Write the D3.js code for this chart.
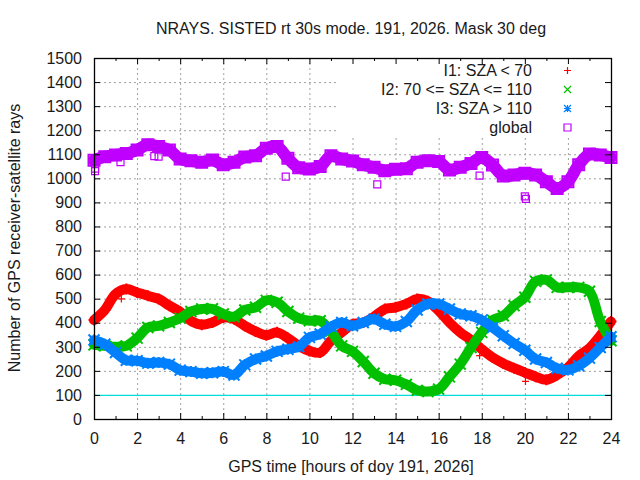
<!DOCTYPE html>
<html>
<head>
<meta charset="utf-8">
<script src="https://cdn.jsdelivr.net/npm/d3@7"></script>
<style>
  body { margin: 0; background: #fff; }
  text { font-family: "Liberation Sans", Arial, sans-serif; fill: #1a1a1a; }
</style>
</head>
<body>
<div id="chart"></div>
<script>
const hours = [0, 0.5, 1, 1.5, 2, 2.5, 3, 3.5, 4, 4.5, 5, 5.5, 6, 6.5, 7, 7.5, 8, 8.5, 9, 9.5,
    10, 10.5, 11, 11.5, 12, 12.5, 13, 13.5, 14, 14.5, 15, 15.5, 16, 16.5, 17, 17.5, 18, 18.5, 19, 19.5,
    20, 20.5, 21, 21.5, 22, 22.5, 23, 23.5, 24];

const raysI1 = [411, 453, 519, 540, 526, 512, 499, 471, 445, 408, 392, 401, 422, 415, 387, 364, 348, 360, 336, 304,
    283, 276, 325, 360, 394, 401, 425, 457, 464, 478, 499, 489, 450, 401, 360, 328, 290, 256, 231, 211,
    193, 176, 163, 183, 214, 262, 294, 346, 405];
const raysI2 = [308, 304, 300, 304, 336, 380, 387, 401, 419, 447, 457, 458, 436, 425, 453, 464, 493, 485, 447, 419,
    408, 408, 365, 304, 281, 239, 190, 165, 161, 144, 119, 114, 124, 175, 228, 297, 360, 411, 429, 471,
    506, 572, 578, 547, 547, 547, 531, 405, 325];
const raysI3 = [328, 311, 276, 244, 242, 232, 235, 228, 203, 197, 190, 192, 197, 183, 225, 249, 262, 281, 290, 300,
    339, 353, 383, 401, 387, 401, 415, 394, 385, 405, 453, 478, 478, 457, 436, 429, 411, 380, 346, 314,
    286, 249, 235, 211, 204, 221, 253, 297, 342];
const raysGlobal = [1075, 1090, 1097, 1103, 1118, 1140, 1132, 1118, 1080, 1073, 1067, 1076, 1056, 1067, 1089, 1094, 1125, 1132, 1083, 1044,
    1039, 1049, 1094, 1080, 1072, 1056, 1046, 1032, 1038, 1040, 1067, 1073, 1070, 1035, 1046, 1062, 1087, 1055, 1010, 1014,
    1021, 1014, 986, 958, 986, 1056, 1101, 1097, 1087];

// isolated samples away from the bands
const outlierI1 = [[1.27, 499], [17.9, 263], [20.03, 156]];
const outlierGlobal = [[0.05, 1030], [0.05, 1040], [1.23, 1067], [2.8, 1092], [3.0, 1090], [8.9, 1007],
    [13.15, 975], [17.9, 1011], [20.0, 925], [20.05, 915]];

const xTicks = [0, 2, 4, 6, 8, 10, 12, 14, 16, 18, 20, 22, 24];
const yTicks = [0, 100, 200, 300, 400, 500, 600, 700, 800, 900, 1000, 1100, 1200, 1300, 1400, 1500];
const refLevel = 100;

const series = [
    { name: 'I1: SZA < 70', values: raysI1, outliers: outlierI1, color: '#ff0000', symbol: 'plus' },
    { name: 'I2: 70 <= SZA <= 110', values: raysI2, outliers: [], color: '#00c000', symbol: 'cross' },
    { name: 'I3: SZA > 110', values: raysI3, outliers: [], color: '#0080ff', symbol: 'star' },
    { name: 'global', values: raysGlobal, outliers: outlierGlobal, color: '#c000ff', symbol: 'square' }
];

const width = 640, height = 480;
const plot = { left: 94, right: 611, top: 58, bottom: 419 };
const fontSize = '16px';

const svg = d3.select('#chart')
    .append('svg')
    .attr('width', width)
    .attr('height', height);

const x = d3.scaleLinear().domain([0, 24]).range([plot.left, plot.right]);
const y = d3.scaleLinear().domain([0, 1500]).range([plot.bottom, plot.top]);

function symbolPath(type, s) {
    if (type === 'plus') return `M${-s},0H${s}M0,${-s}V${s}`;
    if (type === 'cross') return `M${-s},${-s}L${s},${s}M${-s},${s}L${s},${-s}`;
    if (type === 'star') return `M${-s},0H${s}M0,${-s}V${s}M${-s},${-s}L${s},${s}M${-s},${s}L${s},${-s}`;
    return `M${-s},${-s}H${s}V${s}H${-s}Z`;
}

// grid
const grid = svg.append('g').attr('stroke', '#a0a0a0').attr('stroke-dasharray', '2,3').attr('stroke-width', 1);
xTicks.slice(1, -1).forEach(t => {
    grid.append('line')
        .attr('x1', x(t) + 0.5).attr('x2', x(t) + 0.5)
        .attr('y1', plot.top).attr('y2', plot.bottom);
});
yTicks.slice(1, -1).forEach(t => {
    grid.append('line')
        .attr('x1', plot.left).attr('x2', plot.right)
        .attr('y1', y(t) + 0.5).attr('y2', y(t) + 0.5);
});

// reference level
svg.append('line')
    .attr('x1', plot.left).attr('x2', plot.right)
    .attr('y1', y(refLevel) + 0.5).attr('y2', y(refLevel) + 0.5)
    .attr('stroke', '#00dede')
    .attr('stroke-width', 1.3);

// opaque key box hides the grid behind it
svg.append('rect')
    .attr('x', 337).attr('y', plot.top + 1)
    .attr('width', plot.right - 337 - 6).attr('height', 78)
    .attr('fill', '#fff');

// data bands
const line = d3.line()
    .x((d, i) => x(hours[i]))
    .y(d => y(d))
    .curve(d3.curveCatmullRom);

const data = svg.append('g');
series.forEach(s => {
    data.append('path')
        .attr('d', line(s.values))
        .attr('fill', 'none')
        .attr('stroke', s.color)
        .attr('stroke-width', s.symbol === 'square' ? 12 : 10)
        .attr('stroke-linejoin', 'round')
        .attr('stroke-linecap', 'round');

    data.append('g')
        .selectAll('path')
        .data(s.values)
        .join('path')
        .attr('transform', (d, i) => `translate(${x(hours[i])},${y(d)})`)
        .attr('d', symbolPath(s.symbol, 5.5))
        .attr('fill', 'none')
        .attr('stroke', s.color)
        .attr('stroke-width', 2);

    data.append('g')
        .selectAll('path')
        .data(s.outliers)
        .join('path')
        .attr('transform', d => `translate(${x(d[0])},${y(d[1])})`)
        .attr('d', symbolPath(s.symbol, 3.5))
        .attr('fill', 'none')
        .attr('stroke', s.color)
        .attr('stroke-width', 1.2);
});

// border and ticks (gnuplot style, inward, mirrored)
const axes = svg.append('g').attr('stroke', '#000').attr('stroke-width', 1);
axes.append('rect')
    .attr('x', plot.left + 0.5).attr('y', plot.top + 0.5)
    .attr('width', plot.right - plot.left).attr('height', plot.bottom - plot.top)
    .attr('fill', 'none')
    .attr('stroke-width', 1.3);

d3.range(1, 24).forEach(h => {
    const len = h % 2 === 0 ? 6 : 3;
    axes.append('line').attr('x1', x(h) + 0.5).attr('x2', x(h) + 0.5)
        .attr('y1', plot.bottom).attr('y2', plot.bottom - len);
    axes.append('line').attr('x1', x(h) + 0.5).attr('x2', x(h) + 0.5)
        .attr('y1', plot.top).attr('y2', plot.top + len);
});
yTicks.slice(1, -1).forEach(t => {
    axes.append('line').attr('x1', plot.left).attr('x2', plot.left + 6)
        .attr('y1', y(t) + 0.5).attr('y2', y(t) + 0.5);
    axes.append('line').attr('x1', plot.right).attr('x2', plot.right - 6)
        .attr('y1', y(t) + 0.5).attr('y2', y(t) + 0.5);
});

// tick labels
svg.append('g')
    .selectAll('text')
    .data(xTicks)
    .join('text')
    .attr('x', d => x(d) + 0.5)
    .attr('y', 444)
    .attr('text-anchor', 'middle')
    .attr('font-size', fontSize)
    .text(d => d);

svg.append('g')
    .selectAll('text')
    .data(yTicks)
    .join('text')
    .attr('x', 82)
    .attr('y', d => y(d))
    .attr('dy', '0.36em')
    .attr('text-anchor', 'end')
    .attr('font-size', fontSize)
    .text(d => d);

// titles
svg.append('text')
    .attr('x', 351).attr('y', 34)
    .attr('text-anchor', 'middle')
    .attr('font-size', fontSize)
    .text('NRAYS. SISTED rt 30s mode. 191, 2026. Mask 30 deg');

svg.append('text')
    .attr('x', 351).attr('y', 472)
    .attr('text-anchor', 'middle')
    .attr('font-size', fontSize)
    .text('GPS time [hours of doy 191, 2026]');

svg.append('text')
    .attr('transform', 'translate(20,238) rotate(-90)')
    .attr('text-anchor', 'middle')
    .attr('font-size', fontSize)
    .text('Number of GPS receiver-satellite rays');

// legend
const key = svg.append('g');
series.forEach((s, i) => {
    const ky = 70.5 + i * 19;
    key.append('text')
        .attr('x', 532).attr('y', ky)
        .attr('dy', '0.36em')
        .attr('text-anchor', 'end')
        .attr('font-size', fontSize)
        .text(s.name);
    key.append('path')
        .attr('transform', `translate(567.5,${ky})`)
        .attr('d', symbolPath(s.symbol, 3.5))
        .attr('fill', 'none')
        .attr('stroke', s.color)
        .attr('stroke-width', 1.2);
});
</script>
</body>
</html>
